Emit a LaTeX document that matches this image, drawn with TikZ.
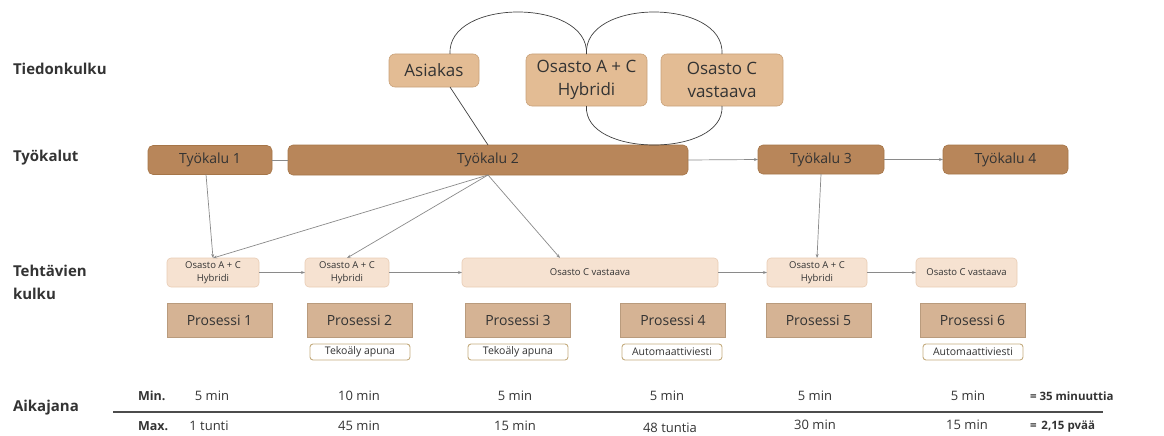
\documentclass[tikz,border=0pt]{standalone}
\usepackage{fontspec}
\setmainfont{Open Sans}
\usetikzlibrary{arrows.meta,calc}
\definecolor{topfill}{HTML}{E3BC94}
\definecolor{topdraw}{HTML}{C9A27A}
\definecolor{toolfill}{HTML}{B8865A}
\definecolor{tooldraw}{HTML}{A57548}
\definecolor{taskfill}{HTML}{F6E2D1}
\definecolor{taskdraw}{HTML}{E8CCB4}
\definecolor{procfill}{HTML}{D5B394}
\definecolor{procdraw}{HTML}{B99B7D}
\definecolor{tagdraw}{HTML}{C4AC7E}
\definecolor{txt}{HTML}{333333}
\definecolor{conn}{HTML}{8A8A8A}
\tikzset{
  every node/.style={inner sep=0pt, outer sep=0pt, text=txt},
  rowlabel/.style={anchor=west, font=\fontsize{15}{23}\selectfont\bfseries, align=left},
  topbox/.style={draw=topdraw, fill=topfill, rounded corners=6pt, line width=0.6pt, align=center, font=\fontsize{17}{23}\selectfont},
  toolbox/.style={draw=tooldraw, fill=toolfill, rounded corners=5pt, line width=0.6pt, minimum height=29pt, font=\fontsize{14}{16}\selectfont},
  taskbox/.style={draw=taskdraw, fill=taskfill, rounded corners=4pt, line width=0.6pt, minimum height=29pt, align=center, font=\fontsize{9.5}{12.5}\selectfont},
  procbox/.style={draw=procdraw, fill=procfill, line width=0.6pt, minimum width=105pt, minimum height=34pt, font=\fontsize{14}{16}\selectfont},
  tagbox/.style={draw=tagdraw, fill=white, rounded corners=3pt, line width=0.9pt, minimum width=100pt, minimum height=16pt, font=\fontsize{10.5}{12}\selectfont},
  tl/.style={font=\fontsize{13}{15}\selectfont},
  tlb/.style={font=\fontsize{12.5}{14}\selectfont\bfseries},
  tls/.style={font=\fontsize{11.5}{13}\selectfont\bfseries},
  link/.style={draw=conn, line width=0.7pt},
  arrow/.style={link, -{Stealth[length=4pt,width=3pt]}},
  arc/.style={draw=black!75, line width=0.7pt},
}
\begin{document}
\begin{tikzpicture}[x=1pt,y=-1pt]
\useasboundingbox (0,0) rectangle (1164,436);
% row labels
\node[rowlabel] (l1) at (13,69) {Tiedonkulku};
\node[rowlabel] (l2) at (13,158) {Työkalut};
\node[rowlabel] (l3) at (13,282) {Tehtävien\\kulku};
\node[rowlabel] (l4) at (13,408) {Aikajana};
% top boxes
\node[topbox, minimum width=90pt, minimum height=33pt] (asi) at (434,70.5) {Asiakas};
\node[topbox, minimum width=121pt, minimum height=52pt] (ac) at (586.5,80) {Osasto A + C\\Hybridi};
\node[topbox, minimum width=122pt, minimum height=52pt] (cv) at (722,80) {Osasto C\\vastaava};
% tools
\node[toolbox, minimum width=124pt] (t1) at (210,160) {Työkalu 1};
\node[toolbox, minimum width=400pt, minimum height=30pt] (t2) at (488,160) {Työkalu 2};
\node[toolbox, minimum width=126pt] (t3) at (821,159.5) {Työkalu 3};
\node[toolbox, minimum width=125pt] (t4) at (1005.5,159.5) {Työkalu 4};
% tasks
\node[taskbox, minimum width=92pt] (k1) at (213,272.5) {Osasto A + C\\Hybridi};
\node[taskbox, minimum width=84pt] (k2) at (347,272.5) {Osasto A + C\\Hybridi};
\node[taskbox, minimum width=256pt] (k3) at (590,272.5) {Osasto C vastaava};
\node[taskbox, minimum width=100pt] (k4) at (817,272.5) {Osasto A + C\\Hybridi};
\node[taskbox, minimum width=101pt] (k5) at (966.5,272.5) {Osasto C vastaava};
% processes
\node[procbox] (p1) at (219.5,320) {Prosessi 1};
\node[procbox] (p2) at (359.5,320) {Prosessi 2};
\node[procbox] (p3) at (518,320) {Prosessi 3};
\node[procbox] (p4) at (673,320) {Prosessi 4};
\node[procbox] (p5) at (818.5,320) {Prosessi 5};
\node[procbox] (p6) at (972.5,320) {Prosessi 6};
% tags
\node[tagbox] (g2) at (360,352) {Tekoäly apuna};
\node[tagbox] (g3) at (518,352) {Tekoäly apuna};
\node[tagbox] (g4) at (672,352) {Automaattiviesti};
\node[tagbox] (g6) at (973,352) {Automaattiviesti};
% arcs
\draw[arc] ([xshift=16pt]asi.north) .. controls (447,-2) and (589,-2) .. (ac.north);
\draw[arc] (ac.north) .. controls (583,-2) and (725,-2) .. (cv.north);
\draw[arc] (ac.south) .. controls (583,158) and (725,158) .. (cv.south);
\draw[arc] ([xshift=16pt]asi.south) -- (t2.north);
% tool connectors
\draw[link] (t1.east) -- (t2.west);
\draw[arrow] (t2.east) -- (t3.west);
\draw[arrow] (t3.east) -- (t4.west);
\draw[arrow] ([xshift=-4pt]t1.south) -- (k1.north);
\draw[arrow] (t2.south) -- (k1.north);
\draw[arrow] (t2.south) -- (k2.north);
\draw[arrow] (t2.south) -- ([xshift=-30pt]k3.north);
\draw[arrow] (t3.south) -- (k4.north);
% task flow
\draw[arrow] (k1.east) -- (k2.west);
\draw[arrow] (k2.east) -- (k3.west);
\draw[arrow] (k3.east) -- (k4.west);
\draw[arrow] (k4.east) -- (k5.west);
% timeline
\node[tlb, anchor=west] (mn) at (138,396) {Min.};
\node[tlb, anchor=west] (mx) at (138,426) {Max.};
\node[tl] (a1) at (212,396) {5 min};
\node[tl] (a2) at (359,396) {10 min};
\node[tl] (a3) at (515,396) {5 min};
\node[tl] (a4) at (667,396) {5 min};
\node[tl] (a5) at (815,396) {5 min};
\node[tl] (a6) at (968,396) {5 min};
\node[tls, anchor=west] (asum) at (1030,396) {= 35 minuuttia};
\node[tl] (b1) at (209,426) {1 tunti};
\node[tl] (b2) at (359,426) {45 min};
\node[tl] (b3) at (515,426) {15 min};
\node[tl] (b4) at (670,428) {48 tuntia};
\node[tl] (b5) at (815,425) {30 min};
\node[tl] (b6) at (967,425) {15 min};
\node[tls, anchor=west] (bsum) at (1030,427) {=\, 2,15 pvää};
\coordinate (ls) at (113,412);
\coordinate (le) at (1103,412);
\draw[draw=black!70, line width=1.5pt] (ls) -- (le);
\end{tikzpicture}
\end{document}
